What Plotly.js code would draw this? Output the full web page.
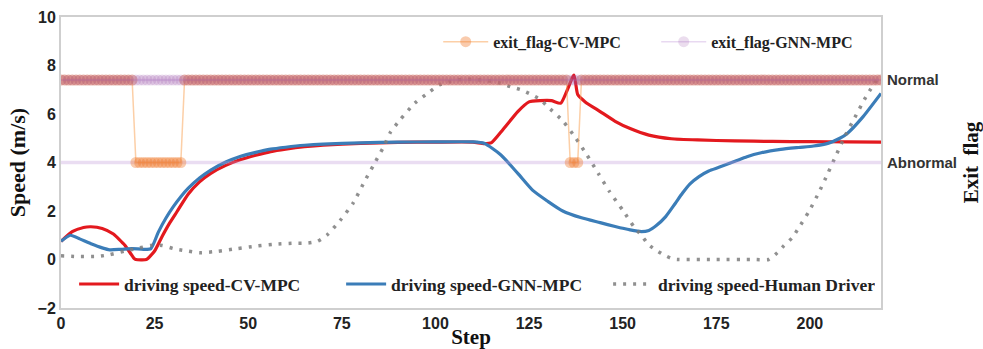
<!DOCTYPE html>
<html>
<head>
<meta charset="utf-8">
<script src="https://cdn.plot.ly/plotly-3.0.1.min.js"></script>
<style>html,body{margin:0;padding:0;background:#fff}#chart{width:983px;height:349px}</style>
</head>
<body>
<div id="chart"></div>
<script>
// ---- data ----
const cvSteps = [0,3,6,8,11,14,17,19.5,20,22.8,25,27,29,31,34,37,40,44,48,52,56,60,65,70,80,90,100,110,113,115,118,122,125,128,131,133.5,137,138,140,144,148,152,157,163,170,180,190,200,210,219];
const cvSpeed = [0.75,1.15,1.32,1.35,1.28,1.05,0.6,0.05,0,0,0.35,0.95,1.5,1.98,2.7,3.2,3.55,3.88,4.12,4.3,4.45,4.55,4.65,4.72,4.79,4.83,4.84,4.84,4.78,4.82,5.35,6.1,6.5,6.55,6.55,6.45,7.6,6.8,6.5,6.1,5.7,5.4,5.13,4.98,4.93,4.89,4.87,4.86,4.85,4.84];

const gnnSteps = [0,2.5,5,8,11,13,16,19,22,24,26,28,30,32,34,37,40,44,48,52,56,60,65,70,80,90,100,110,113,117.5,122,126,130,134,139,144,148,152,155,157,159,161.5,164,166,168,170.4,173,175.7,180,183.2,187,192.2,197,201,205,208,210,214,219];
const gnnSpeed = [0.75,1.0,0.85,0.65,0.48,0.4,0.42,0.45,0.42,0.45,1.13,1.7,2.18,2.59,2.94,3.36,3.69,4.02,4.26,4.42,4.55,4.63,4.71,4.76,4.81,4.84,4.85,4.85,4.79,4.31,3.55,2.85,2.4,2.0,1.72,1.52,1.36,1.22,1.15,1.2,1.4,1.77,2.3,2.74,3.12,3.42,3.65,3.8,4.05,4.24,4.4,4.54,4.62,4.68,4.8,5.0,5.2,5.85,6.85];

const humanSteps = [0,5,10,13,17,21,24,27,30,33,37,42,47,52,57,62,66,68.5,71,74.5,78,81,83.5,86,88,90.5,94.5,98.5,101,104,107,110,112,115,117.5,120,123,125.5,128,130,134,137.5,140.5,143.5,146.5,150,153,155,157,159,161,163.5,165,175,185,189,191.3,193,195.3,197,199.7,202.4,204.8,207,209.5,212,214.9,217.8];
const humanSpeed = [0.15,0.12,0.13,0.2,0.35,0.48,0.58,0.58,0.45,0.37,0.28,0.34,0.45,0.55,0.63,0.67,0.68,0.75,1.0,1.6,2.32,3.2,3.9,4.6,5.25,5.75,6.45,6.92,7.2,7.34,7.43,7.43,7.4,7.35,7.27,7.13,6.99,6.81,6.6,6.3,5.72,5.0,4.3,3.55,2.8,2.04,1.35,1.0,0.6,0.38,0.19,0.02,0,0,0,0,0.28,0.56,0.9,1.3,1.97,2.76,3.55,4.3,5.13,5.85,6.69,7.4];

const flagLevels = [7.4, 4];              // Normal, Abnormal (plot level)
const flagLabels = ['Normal', 'Abnormal'];
const lastStep = 219;
const cvAbnormalSteps = [20,21,22,23,24,25,26,27,28,29,30,31,32,136,137,138];
const gnnAbnormalSteps = [];

const yTicks = [-2,0,2,4,6,8,10];
const xTicks = [0,25,50,75,100,125,150,175,200];

// ---- derived ----
const flagSteps = [];
for (let s = 0; s <= lastStep; s++) flagSteps.push(s);
const cvFlag = flagSteps.map(s => cvAbnormalSteps.includes(s) ? flagLevels[1] : flagLevels[0]);
const gnnFlag = flagSteps.map(s => gnnAbnormalSteps.includes(s) ? flagLevels[1] : flagLevels[0]);

const serif = 'Liberation Serif, Times New Roman, serif';
const sans = 'Liberation Sans, Arial, sans-serif';

const traces = [
  {x: cvSteps, y: cvSpeed, name: 'driving speed-CV-MPC', mode: 'lines', legend: 'legend2',
   line: {color: '#e3191e', width: 3.2, shape: 'spline', smoothing: 0.5}},
  {x: gnnSteps, y: gnnSpeed, name: 'driving speed-GNN-MPC', mode: 'lines', legend: 'legend2',
   line: {color: '#3b7db8', width: 3.2, shape: 'spline', smoothing: 0.6}},
  {x: humanSteps, y: humanSpeed, name: 'driving speed-Human Driver', mode: 'lines', legend: 'legend2',
   line: {color: 'rgba(125,125,125,0.85)', width: 3.5, dash: '3px,7px', shape: 'spline', smoothing: 0.5}},
  {x: [flagSteps[0], flagSteps[flagSteps.length-1]], y: [flagLevels[1], flagLevels[1]], mode: 'lines', showlegend: false,
   hoverinfo: 'skip', line: {color: 'rgba(190,150,215,0.32)', width: 3.5}},
  {x: flagSteps, y: cvFlag, name: 'exit_flag-CV-MPC', mode: 'lines+markers', legend: 'legend',
   line: {color: 'rgba(250,160,80,0.5)', width: 1.5},
   marker: {color: 'rgba(240,125,50,0.4)', size: 11, line: {width: 0}}},
  {x: flagSteps, y: gnnFlag, name: 'exit_flag-GNN-MPC', mode: 'lines+markers', legend: 'legend',
   line: {color: 'rgba(180,130,210,0.3)', width: 1.5},
   marker: {color: 'rgba(155,85,170,0.2)', size: 11, line: {width: 0}}}
];

const layout = {
  width: 983, height: 349,
  margin: {l: 61, r: 102, t: 17, b: 41},
  paper_bgcolor: '#fff', plot_bgcolor: '#fff',
  xaxis: {range: [0, lastStep], tickvals: xTicks, showgrid: false, zeroline: false,
    showline: true, mirror: true, linecolor: '#cfcfcf', linewidth: 2, ticks: '',
    tickfont: {family: sans, size: 16, color: '#222', weight: 'bold'},
    title: {text: 'Step', font: {family: serif, size: 21, color: '#111', weight: 'bold'}, standoff: 2},
    automargin: false},
  yaxis: {range: [-2, 10], tickvals: yTicks, showgrid: false, zeroline: false,
    showline: true, mirror: true, linecolor: '#cfcfcf', linewidth: 2, ticks: '',
    tickfont: {family: sans, size: 16, color: '#222', weight: 'bold'},
    title: {text: 'Speed (m/s)', font: {family: serif, size: 22, color: '#111', weight: 'bold'}, standoff: 6},
    automargin: false},
  yaxis2: {overlaying: 'y', side: 'right', range: [-2, 10], tickvals: flagLevels, ticktext: flagLabels,
    showgrid: false, zeroline: false, showline: false, ticks: '', ticklabelstandoff: 5,
    tickfont: {family: sans, size: 15, color: '#333', weight: 'bold'},
    title: {text: 'Exit  flag', font: {family: serif, size: 21, color: '#111', weight: 'bold'}, standoff: 22},
    automargin: false},
  legend: {orientation: 'h', x: 0.46, xanchor: 'left', y: 0.915, yanchor: 'middle',
    bgcolor: 'rgba(0,0,0,0)', itemwidth: 45, entrywidth: 158, entrywidthmode: 'pixels',
    font: {family: serif, size: 16, color: '#222', weight: 'bold'}},
  legend2: {orientation: 'h', x: 0.016, xanchor: 'left', y: 0.082, yanchor: 'middle',
    bgcolor: 'rgba(0,0,0,0)', itemwidth: 40, entrywidth: 212, entrywidthmode: 'pixels',
    font: {family: serif, size: 17.5, color: '#222', weight: 'bold'}},
  showlegend: true
};
// a dummy trace to activate yaxis2 ticks
traces.push({x: [0], y: [flagLevels[0]], yaxis: 'y2', mode: 'markers', showlegend: false,
  marker: {opacity: 0}, hoverinfo: 'skip'});

Plotly.newPlot('chart', traces, layout, {displayModeBar: false, staticPlot: true});
</script>
</body>
</html>
